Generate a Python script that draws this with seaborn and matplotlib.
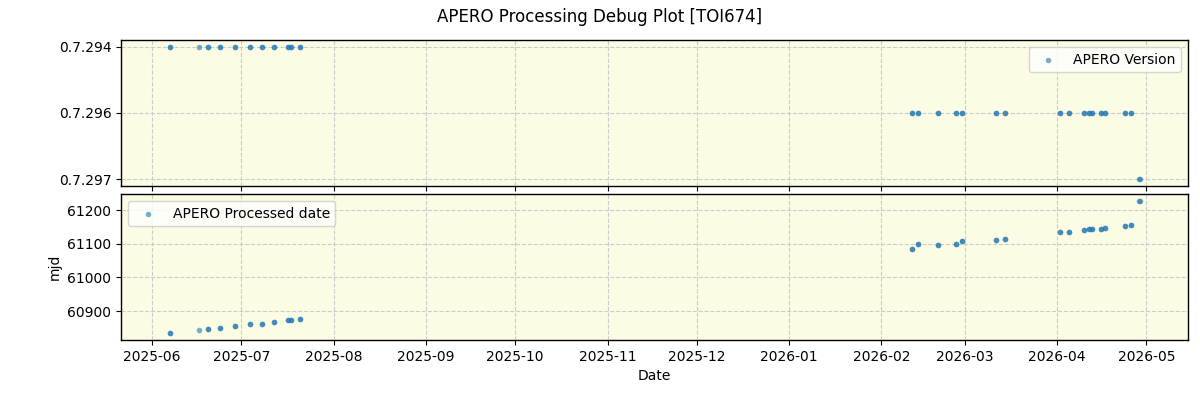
import matplotlib
matplotlib.use("Agg")
import matplotlib.pyplot as plt
import matplotlib.dates as mdates
import seaborn as sns
import pandas as pd

# Observation dates (x), APERO version (top), processed MJD (bottom)
obs_dates = [
    "2025-06-06 22:00", "2025-06-06 22:30",
    "2025-06-16 17:00",
    "2025-06-19 17:00", "2025-06-19 17:30",
    "2025-06-23 17:00", "2025-06-23 17:30",
    "2025-06-28 19:00", "2025-06-28 19:30",
    "2025-07-03 19:00", "2025-07-03 19:30",
    "2025-07-07 20:00", "2025-07-07 20:30",
    "2025-07-11 21:00", "2025-07-11 21:30",
    "2025-07-16 14:00", "2025-07-16 14:30",
    "2025-07-17 14:00", "2025-07-17 14:30",
    "2025-07-20 14:00", "2025-07-20 14:30",
    "2026-02-11 07:00", "2026-02-11 07:30",
    "2026-02-13 07:00", "2026-02-13 07:30",
    "2026-02-20 01:00", "2026-02-20 01:30",
    "2026-02-26 02:00", "2026-02-26 02:30",
    "2026-02-28 02:00", "2026-02-28 02:30",
    "2026-03-11 10:00", "2026-03-11 10:30",
    "2026-03-14 10:00", "2026-03-14 10:30",
    "2026-04-01 21:00", "2026-04-01 21:30",
    "2026-04-04 21:00", "2026-04-04 21:30",
    "2026-04-09 22:00", "2026-04-09 22:30",
    "2026-04-11 19:00", "2026-04-11 19:30",
    "2026-04-12 21:00", "2026-04-12 21:30",
    "2026-04-15 21:00", "2026-04-15 21:30",
    "2026-04-17 00:00", "2026-04-17 00:30",
    "2026-04-24 00:00", "2026-04-24 00:30",
    "2026-04-26 00:00", "2026-04-26 00:30",
    "2026-04-28 17:00", "2026-04-28 17:30",
]
versions = (["0.7.294"] * 21 + ["0.7.296"] * 32 + ["0.7.297"] * 2)
processed_mjd = [
    60834, 60834,
    60843,
    60846, 60846,
    60850, 60850,
    60855, 60855,
    60863, 60863,
    60863, 60863,
    60869, 60869,
    60873, 60873,
    60873, 60873,
    60878, 60878,
    61083, 61083,
    61098, 61098,
    61095, 61095,
    61098, 61098,
    61107, 61107,
    61110, 61110,
    61113, 61113,
    61136, 61136,
    61136, 61136,
    61142, 61142,
    61145, 61145,
    61145, 61145,
    61145, 61145,
    61148, 61148,
    61154, 61154,
    61157, 61157,
    61228, 61228,
]

df = pd.DataFrame({
    "Date": pd.to_datetime(obs_dates),
    "version": versions,
    "mjd": processed_mjd,
})

sns.set_style("ticks")
plt.rcParams["font.family"] = ["DejaVu Sans"]
for k in ("text.color", "axes.labelcolor", "xtick.color", "ytick.color"):
    plt.rcParams[k] = "black"

fig, (ax1, ax2) = plt.subplots(2, 1, figsize=(12, 4), dpi=100, sharex=True)
fig.subplots_adjust(left=0.101, right=0.99, top=0.90, bottom=0.15, hspace=0.055)

face = "#fcfbe3"
color = "#1f77b4"

sns.scatterplot(data=df, x="Date", y="version", ax=ax1, s=16, color=color,
                alpha=0.6, linewidth=0, label="APERO Version")
sns.scatterplot(data=df, x="Date", y="mjd", ax=ax2, s=16, color=color,
                alpha=0.6, linewidth=0, label="APERO Processed date")

for ax in (ax1, ax2):
    ax.set_facecolor(face)
    ax.grid(True, linestyle="--", color="#cccccc", linewidth=0.8)
    for sp in ax.spines.values():
        sp.set_visible(True)
        sp.set_color("black")
        sp.set_linewidth(1.0)
    ax.tick_params(axis="both", labelsize=10, direction="out", length=3.5,
                   color="black", labelcolor="black", bottom=True, left=True)

ax1.set_ylim(2.1, -0.1)
ax1.set_ylabel("")
ax1.set_xlabel("")
ax1.legend(loc="upper right", fontsize=10)
ax1.tick_params(labelbottom=False)

ax2.set_ylabel("mjd", fontsize=10, color="black")
ax2.set_xlabel("Date", fontsize=10, color="black")
ax2.legend(loc="upper left", fontsize=10)
ax2.xaxis.set_major_locator(mdates.MonthLocator())
ax2.xaxis.set_major_formatter(mdates.DateFormatter("%Y-%m"))

fig.suptitle("APERO Processing Debug Plot [TOI674]", fontsize=12, y=0.98,
             color="black")

fig.savefig("out.png", dpi=100)
